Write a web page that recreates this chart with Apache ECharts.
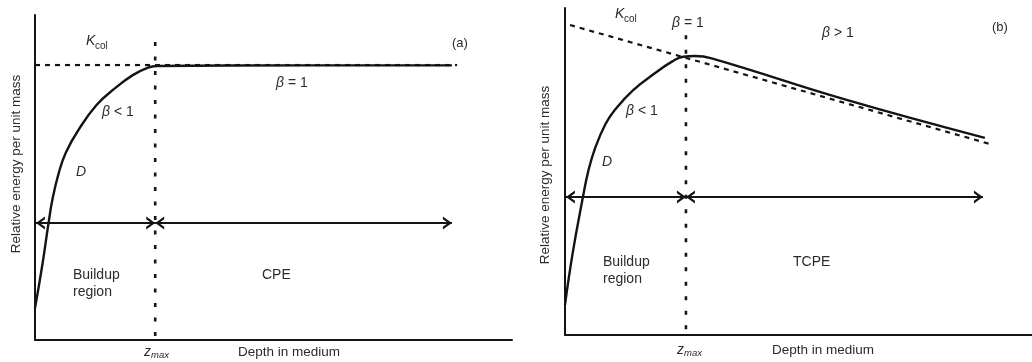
<!DOCTYPE html>
<html>
<head>
<meta charset="utf-8">
<script src="https://cdn.jsdelivr.net/npm/echarts@6/dist/echarts.min.js"></script>
<style>
html,body{margin:0;padding:0;background:#fff;}
#chart{width:1032px;height:362px;}
</style>
</head>
<body>
<div id="chart"></div>
<script>
// ---- Panel (a): relative depth (0-100) vs relative energy (0-100)
const aDepth  = [0, 1.6, 2.8, 3.7, 5.0, 6.5, 9.1, 12.9, 16.8, 20.5, 23.7, 25.5, 55.6, 87.4];
const aEnergy = [9.8, 23.7, 35.6, 43.6, 51.5, 57.8, 64.6, 72.3, 77.5, 81.5, 83.8, 84.3, 84.5, 84.5];
const aKcolDepth  = [0, 88.5];
const aKcolEnergy = [84.6, 84.6];
const aZmax = 25.2;
const aZmaxTop = 91.7;
const aArrowY = 36;
const aArrowStops = [0.2, 25.2, 87.4];

// ---- Panel (b)
const bDepth  = [0, 1.65, 3.8, 5.0, 6.5, 8.7, 10.7, 14.6, 19.3, 22.9, 25.3, 27.8, 31.4, 60.3, 89.9];
const bEnergy = [9.2, 25.1, 41.9, 50.2, 57.4, 64.6, 68.9, 74.9, 80.1, 83.6, 85.1, 85.3, 84.6, 71.9, 60.3];
const bKcolDepth  = [1.07, 91.0];
const bKcolEnergy = [94.8, 58.4];
const bZmax = 25.9;
const bZmaxTop = 91.7;
const bArrowY = 42.2;
const bArrowStops = [0.2, 25.9, 89.5];

const INK = '#141414';
const TXT = '#2b2b2b';
const FONT = "'Liberation Sans', Arial, sans-serif";
const chev = 'path://M5,0 M0,20 L5,10 L10,20 L7.9,20 L5,14.2 L2.1,20 Z';

function pairs(xs, ys){ return xs.map((x,i)=>[x, ys[i]]); }

function axisPair(idx){
  return {
    gridIndex: idx, type: 'value', min: 0, max: 100,
    axisLine: {show: true, onZero: false, lineStyle: {color: INK, width: 2}},
    axisTick: {show: false}, axisLabel: {show: false}, splitLine: {show: false}
  };
}

function panelSeries(idx, depth, energy, kd, ke, zx, ztop, ay, stops){
  return [
    {
      type: 'line', xAxisIndex: idx, yAxisIndex: idx, silent: true,
      data: pairs(kd, ke), showSymbol: false, symbol: 'none',
      lineStyle: {color: INK, width: 2.2, type: [5, 5]}, z: 2
    },
    {
      type: 'line', xAxisIndex: idx, yAxisIndex: idx, silent: true,
      data: [[zx, ztop], [zx, 0]], showSymbol: false, symbol: 'none',
      lineStyle: {color: INK, width: 2.6, type: [4, 10.5]}, z: 2
    },
    {
      type: 'line', xAxisIndex: idx, yAxisIndex: idx, silent: true,
      data: pairs(depth, energy), showSymbol: false, symbol: 'none', smooth: 0.45,
      lineStyle: {color: INK, width: 2.4}, z: 3,
      markLine: {
        silent: true, symbol: [chev, chev], symbolSize: [13, 18],
        label: {show: false},
        lineStyle: {color: INK, width: 2, type: 'solid'},
        emphasis: {disabled: true},
        data: [
          [{coord: [stops[0], ay]}, {coord: [stops[1], ay]}],
          [{coord: [stops[1], ay]}, {coord: [stops[2], ay]}]
        ]
      }
    }
  ];
}

function t(text, x, y, opts){
  opts = opts || {};
  return {
    type: 'text', x: x, y: y, rotation: opts.rot || 0, silent: true,
    style: {
      text: text, fill: TXT,
      font: (opts.italic ? 'italic ' : '') + (opts.size || 14) + 'px ' + FONT,
      align: opts.align || 'left', verticalAlign: 'middle',
      rich: opts.rich
    }
  };
}
const betaRich = {
  b: {fontStyle: 'italic', fontSize: 14, fontFamily: FONT, fill: TXT},
  n: {fontSize: 14, fontFamily: FONT, fill: TXT}
};

const graphics = [
  // panel (a)
  t('K', 86, 41, {italic: true}),
  t('col', 95, 46, {size: 10}),
  t('(a)', 452, 43, {size: 13}),
  t('{b|β} {n|= 1}', 276, 83, {rich: betaRich}),
  t('{b|β} {n|< 1}', 102, 112, {rich: betaRich}),
  t('D', 76, 172, {italic: true}),
  t('Buildup', 73, 275),
  t('region', 73, 292),
  t('CPE', 262, 275),
  t('z', 144, 352, {italic: true}),
  t('max', 151, 355, {italic: true, size: 9.5}),
  t('Depth in medium', 238, 352, {size: 13.5}),
  t('Relative energy per unit mass', 16, 164, {size: 13.5, align: 'center', rot: Math.PI / 2}),
  // panel (b)
  t('K', 615, 14, {italic: true}),
  t('col', 624, 19, {size: 10}),
  t('{b|β} {n|= 1}', 672, 23, {rich: betaRich}),
  t('{b|β} {n|> 1}', 822, 33, {rich: betaRich}),
  t('(b)', 992, 27, {size: 13}),
  t('{b|β} {n|< 1}', 626, 111, {rich: betaRich}),
  t('D', 602, 162, {italic: true}),
  t('Buildup', 603, 262),
  t('region', 603, 279),
  t('TCPE', 793, 262),
  t('z', 677, 350, {italic: true}),
  t('max', 684, 353, {italic: true, size: 9.5}),
  t('Depth in medium', 772, 350, {size: 13.5}),
  t('Relative energy per unit mass', 545, 175, {size: 13.5, align: 'center', rot: Math.PI / 2})
];

const chart = echarts.init(document.getElementById('chart'), null, {renderer: 'canvas'});
chart.setOption({
  animation: false,
  backgroundColor: '#ffffff',
  grid: [
    {left: 35, top: 15, width: 477, height: 325},
    {left: 565, top: 8, width: 467, height: 327}
  ],
  xAxis: [axisPair(0), axisPair(1)],
  yAxis: [axisPair(0), axisPair(1)],
  series: [].concat(
    panelSeries(0, aDepth, aEnergy, aKcolDepth, aKcolEnergy, aZmax, aZmaxTop, aArrowY, aArrowStops),
    panelSeries(1, bDepth, bEnergy, bKcolDepth, bKcolEnergy, bZmax, bZmaxTop, bArrowY, bArrowStops)
  ),
  graphic: graphics
});
</script>
</body>
</html>
